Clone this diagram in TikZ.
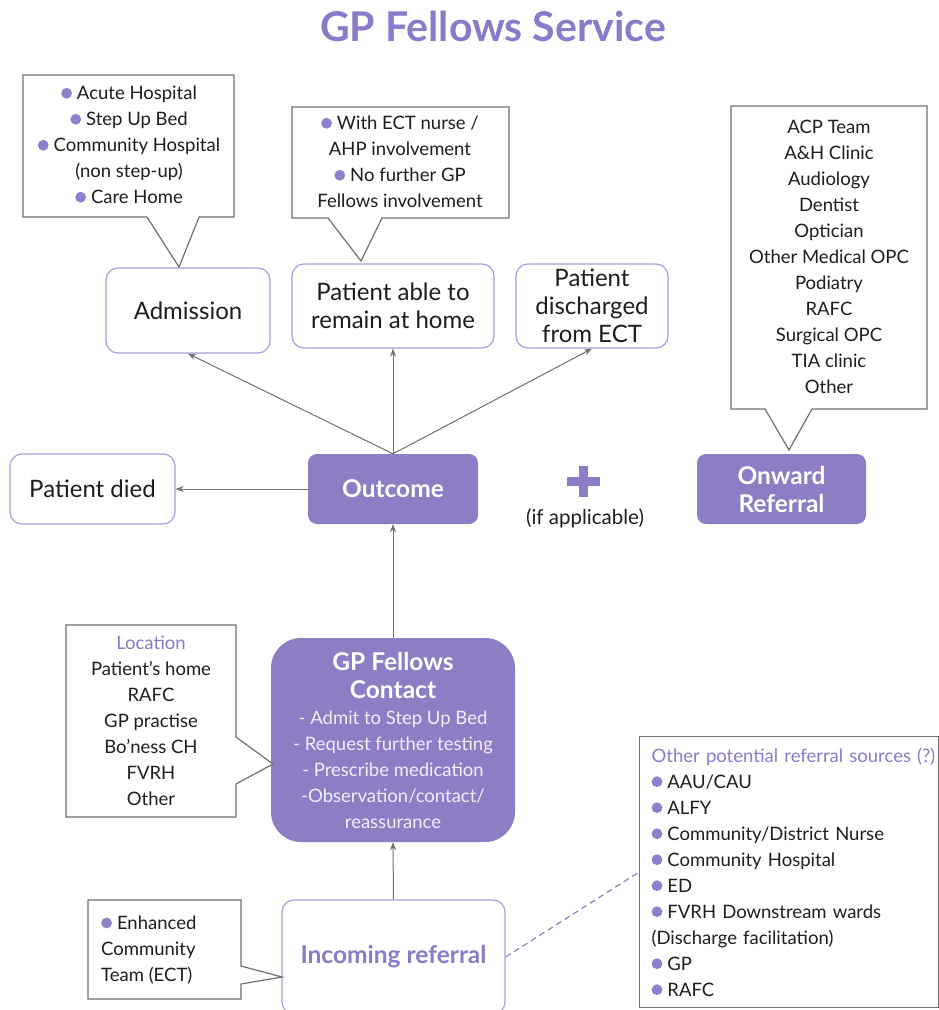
\documentclass[tikz,border=0pt]{standalone}
\usepackage{fontspec}
\setmainfont{Lato}
\usetikzlibrary{arrows.meta}

\definecolor{pfill}{HTML}{8C7DC5}
\definecolor{pline}{HTML}{A99CE0}
\definecolor{ptext}{HTML}{8B7AC9}
\definecolor{pbul}{HTML}{8F80CB}
\definecolor{gline}{HTML}{707070}
\definecolor{txt}{HTML}{1E1E1E}
\definecolor{soft}{HTML}{F1EEFA}

% purple round bullet used in the lists
\newcommand\bul{\tikz[baseline=-6.5pt]\fill[pbul] (0,0) circle (5.4pt);\hspace{5pt}}

\tikzset{
  wbox/.style={draw=pline, line width=1.2pt, rounded corners=12pt, fill=white,
    text=txt, align=center, font=\fontsize{24}{28}\selectfont},
  pbox/.style={fill=pfill, rounded corners=9pt, text=white, align=center,
    font=\bfseries\fontsize{24.5}{28}\selectfont},
  callout/.style={draw=gline, line width=1.2pt, fill=white, line join=miter},
  ctext/.style={text=txt, align=center, inner sep=0pt, font=\fontsize{18.5}{26}\selectfont},
  arr/.style={draw=gline, line width=1pt, -{Stealth[length=8pt,width=6pt]}},
  dashln/.style={draw=pbul, line width=1.2pt, dash pattern=on 6pt off 4pt},
}

\begin{document}
\begin{tikzpicture}[x=1pt,y=-1pt]
\useasboundingbox (0,0) rectangle (939,1010);
\fill[white] (0,0) rectangle (939,1010);

% title
\node[text=ptext, font=\bfseries\fontsize{41}{44}\selectfont] (title) at (493,26) {GP Fellows Service};

% outcome row
\node[wbox, minimum width=164pt, minimum height=85pt] (adm) at (188,310.5) {Admission};
\node[wbox, minimum width=202pt, minimum height=84pt] (home) at (393,306) {Patient able to\\remain at home};
\node[wbox, minimum width=152pt, minimum height=84pt] (disc) at (592,306) {Patient\\discharged\\from ECT};
\node[wbox, minimum width=165pt, minimum height=70pt] (died) at (92.5,489) {Patient died};
\node[pbox, minimum width=170pt, minimum height=70pt] (out) at (393,489) {Outcome};
\node[pbox, minimum width=169pt, minimum height=70pt] (onw) at (781.5,489) {Onward\\Referral};

% plus sign and note
\fill[pfill] (567,477) rectangle (600,486);
\fill[pfill] (579,466) rectangle (588,497);
\node[ctext, font=\fontsize{20.5}{26}\selectfont] (ifapp) at (585,518) {(if applicable)};

% main contact box
\node[pbox, rounded corners=30pt, minimum width=244pt, minimum height=204pt,
  font=\fontsize{18.5}{26}\selectfont] (gpc) at (393,740)
  {{\bfseries\fontsize{24.5}{26}\selectfont GP Fellows}\\[2pt]
   {\bfseries\fontsize{24.5}{26}\selectfont Contact}\\
   \textcolor{soft}{- Admit to Step Up Bed}\\
   \textcolor{soft}{- Request further testing}\\
   \textcolor{soft}{- Prescribe medication}\\
   \textcolor{soft}{-Observation/contact/}\\
   \textcolor{soft}{reassurance}};

% incoming referral
\node[wbox, minimum width=223pt, minimum height=114pt, text=ptext,
  font=\bfseries\fontsize{24.5}{28}\selectfont] (inc) at (393.5,957) {Incoming referral};

% other referral sources
\node[draw=gline, line width=1.2pt, anchor=north west, align=left, text=txt,
  text width=275pt, inner xsep=12pt, inner ysep=0pt, minimum height=271pt,
  font=\fontsize{18.5}{26}\selectfont] (src) at (639,736)
  {\mbox{\textcolor{ptext}{Other potential referral sources (?)}}\\
   \bul AAU/CAU\\
   \bul ALFY\\
   \bul Community/District Nurse\\
   \bul Community Hospital\\
   \bul ED\\
   \bul FVRH Downstream wards\\
   (Discharge facilitation)\\
   \bul GP\\
   \bul RAFC};

% callouts
\draw[callout] (23,75) -- (234,75) -- (234,217) -- (199,217) -- (179,267)
  -- (147,217) -- (23,217) -- cycle;
\node[ctext] (c1) at (129,145)
  {\bul Acute Hospital\\ \bul Step Up Bed\\ \bul Community Hospital\\
   (non step-up)\\ \bul Care Home};

\draw[callout] (292,107) -- (509,107) -- (509,218) -- (382,218) -- (361,261)
  -- (328,218) -- (292,218) -- cycle;
\node[ctext] (c2) at (400,162)
  {\bul With ECT nurse /\\ AHP involvement\\ \bul No further GP\\ Fellows involvement};

\draw[callout] (731,106) -- (927,106) -- (927,409) -- (812,409) -- (789,450)
  -- (765,409) -- (731,409) -- cycle;
\node[ctext] (c3) at (829,257)
  {ACP Team\\ A\&H Clinic\\ Audiology\\ Dentist\\ Optician\\ Other Medical OPC\\
   Podiatry\\ RAFC\\ Surgical OPC\\ TIA clinic\\ Other};

\draw[callout] (66,625) -- (236,625) -- (236,737) -- (273,764) -- (236,784)
  -- (236,817) -- (66,817) -- cycle;
\node[ctext] (loc) at (151,721)
  {\textcolor{ptext}{Location}\\ Patient’s home\\ RAFC\\ GP practise\\
   Bo’ness CH\\ FVRH\\ Other};

\draw[callout] (88,900) -- (241,900) -- (241,966) -- (282,977) -- (241,984)
  -- (241,999) -- (88,999) -- cycle;
\node[ctext, align=left, anchor=west] (ect) at (101,950)
  {\bul Enhanced\\ Community\\ Team (ECT)};

% connectors
\draw[arr] (out.north) -- (adm.south);
\draw[arr] (out.north) -- (home.south);
\draw[arr] (out.north) -- (disc.south);
\draw[arr] (out.west) -- (died.east);
\draw[arr] (gpc.north) -- (out.south);
\draw[arr] (inc.north) -- (gpc.south);
\draw[dashln] (inc.east) -- (src.west);
\end{tikzpicture}
\end{document}
